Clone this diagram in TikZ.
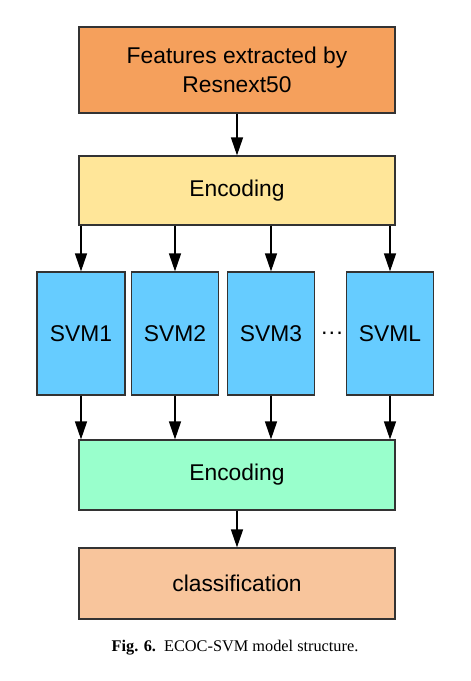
\documentclass[tikz,border=0pt]{standalone}
\usepackage{fontspec}
\setmainfont{Liberation Sans}
\newfontfamily\capfont{Liberation Serif}
\usetikzlibrary{arrows.meta}
\definecolor{cTop}{HTML}{F5A05C}
\definecolor{cEnc}{HTML}{FFE699}
\definecolor{cSvm}{HTML}{66CCFF}
\definecolor{cDec}{HTML}{99FFCC}
\definecolor{cCls}{HTML}{F8C59C}
\definecolor{cBorder}{HTML}{333333}
\begin{document}
\begin{tikzpicture}[x=1pt,y=-1pt,
  box/.style={draw=cBorder,line width=1.2pt,inner sep=0pt,align=center,
    font=\fontsize{22.8}{29}\selectfont,text=black},
  wide/.style={box,minimum width=316pt},
  svmbox/.style={box,minimum width=87pt,minimum height=123pt,fill=cSvm},
  arr/.style={line width=1.3pt,-{Triangle[length=18pt,width=12pt]}}]
\useasboundingbox (0,0) rectangle (471,681);
\fill[white] (0,0) rectangle (471,681);
\node[wide,minimum height=86pt,fill=cTop] (feat) at (237,70) {Features extracted by\\Resnext50};
\node[wide,minimum height=69pt,fill=cEnc] (enc1) at (237,190.5) {Encoding};
\node[svmbox,minimum width=88pt] (s1) at (81,333.5) {SVM1};
\node[svmbox] (s2) at (175,333.5) {SVM2};
\node[svmbox] (s3) at (271,333.5) {SVM3};
\node[svmbox] (sl) at (390,333.5) {SVML};
\node[font=\fontsize{22.8}{29}\selectfont] (dots) at (332,336) {···};
\node[wide,minimum height=70pt,fill=cDec] (enc2) at (237,475) {Encoding};
\node[wide,minimum height=71pt,fill=cCls] (cls) at (237,583.5) {classification};
\node[font=\capfont\fontsize{16.3}{20}\selectfont] (cap) at (235,648) {\textbf{Fig. 6.}\ \ ECOC-SVM model structure.};
\draw[arr] (feat) -- (enc1);
\foreach \s in {s1,s2,s3,sl}{
  \draw[arr] (\s.north |- enc1.south) -- (\s.north);
  \draw[arr] (\s.south) -- (\s.south |- enc2.north);
}
\draw[arr] (enc2) -- (cls);
\end{tikzpicture}
\end{document}
